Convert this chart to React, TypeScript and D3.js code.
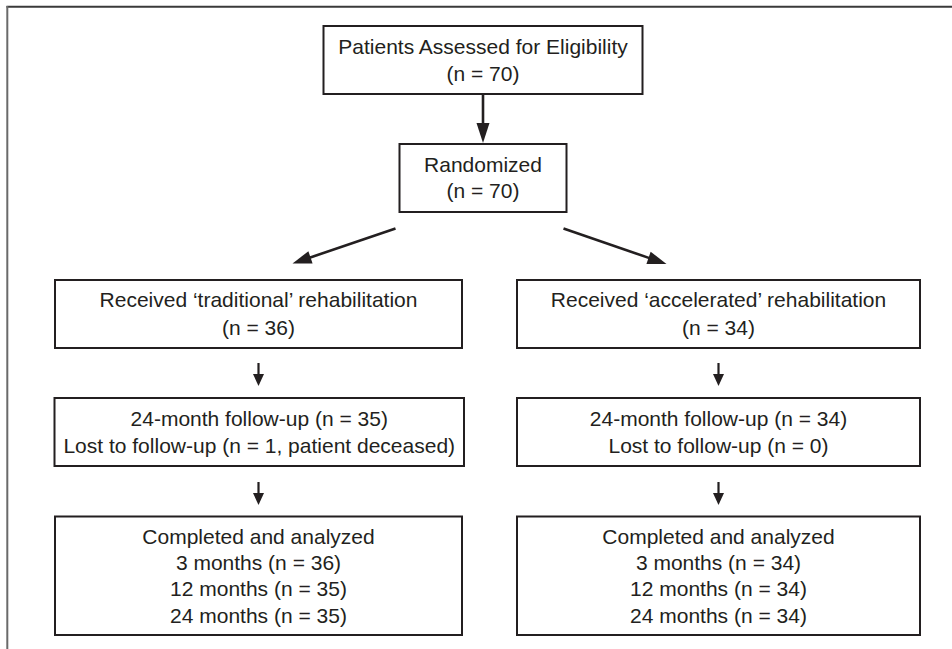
import React from "react";
import * as d3 from "d3";

// ---- Data (texts of the flow diagram) ----
const topLines = ["Patients Assessed for Eligibility", "(n = 70)"];
const randLines = ["Randomized", "(n = 70)"];
const groupTitles = ["Received \u2018traditional\u2019 rehabilitation", "Received \u2018accelerated\u2019 rehabilitation"];
const groupN = [36, 34];
const followUpN = [35, 34];
const lostLabels = ["Lost to follow-up (n = 1, patient deceased)", "Lost to follow-up (n = 0)"];
const analyzedTimes = ["3 months", "12 months", "24 months"];
const analyzedN = [
  [36, 35, 35],
  [34, 34, 34],
];

const W = 952;
const H = 649;
const INK = "#231f20";
const FONT = "'Liberation Sans', Arial, Helvetica, sans-serif";
const FS = 21;

type Pt = [number, number];

function Arrow({ from, to, head, half, sw }: { from: Pt; to: Pt; head: number; half: number; sw: number }) {
  const dx = to[0] - from[0];
  const dy = to[1] - from[1];
  const len = Math.hypot(dx, dy);
  const ux = dx / len;
  const uy = dy / len;
  const bx = to[0] - ux * head;
  const by = to[1] - uy * head;
  const px = -uy;
  const py = ux;
  const tri: Pt[] = [
    [to[0], to[1]],
    [bx + px * half, by + py * half],
    [bx - px * half, by - py * half],
  ];
  const line = d3.line();
  return (
    <g>
      <line x1={from[0]} y1={from[1]} x2={bx + ux * 1} y2={by + uy * 1} stroke={INK} strokeWidth={sw} />
      <path d={line(tri) + "Z"} fill={INK} />
    </g>
  );
}

function Box({ x0, x1, y0, y1, lines, baselines }: { x0: number; x1: number; y0: number; y1: number; lines: string[]; baselines: number[] }) {
  const cx = (x0 + x1) / 2;
  return (
    <g>
      <rect x={x0} y={y0} width={x1 - x0} height={y1 - y0} fill="white" stroke={INK} strokeWidth={2} />
      {lines.map((t, i) => (
        <text key={i} x={cx} y={baselines[i]} textAnchor="middle" fontFamily={FONT} fontSize={FS} fill={INK}>
          {t}
        </text>
      ))}
    </g>
  );
}

export default function App() {
  // column layout via band-like scale
  const colX0 = d3.scaleOrdinal<number, number>().domain([0, 1]).range([55, 517]);
  const colX1 = d3.scaleOrdinal<number, number>().domain([0, 1]).range([462, 920]);
  const colCx = (i: number) => (colX0(i) + colX1(i)) / 2;

  return (
    <svg width={W} height={H} style={{ position: "absolute", left: 0, top: 0, background: "white" }}>
      <rect x={0} y={0} width={W} height={H} fill="white" />
      {/* outer frame */}
      <line x1={6.5} y1={6.7} x2={W} y2={6.7} stroke="#3a3a3a" strokeWidth={2} />
      <line x1={7.3} y1={6} x2={7.3} y2={H} stroke="#6a6a6a" strokeWidth={2} />

      <Box x0={323.5} x1={642.5} y0={26} y1={94} lines={topLines} baselines={[54, 81]} />
      <Arrow from={[483, 94]} to={[483, 143]} head={20} half={6.5} sw={2.6} />

      <Box x0={399.5} x1={566.5} y0={144} y1={212} lines={randLines} baselines={[171.5, 198]} />
      <Arrow from={[395.5, 228.5]} to={[292.5, 263.5]} head={19} half={6.5} sw={2.6} />
      <Arrow from={[563.5, 228.5]} to={[666.5, 264]} head={19} half={6.5} sw={2.6} />

      {[0, 1].map((i) => (
        <g key={i}>
          <Box
            x0={colX0(i)}
            x1={colX1(i)}
            y0={280}
            y1={348}
            lines={[groupTitles[i], `(n = ${groupN[i]})`]}
            baselines={[307, 334.5]}
          />
          <Arrow from={[colCx(i), 363]} to={[colCx(i), 386]} head={12} half={5.5} sw={2.2} />
          <Box
            x0={i === 0 ? 54.5 : colX0(i)}
            x1={i === 0 ? 464 : colX1(i)}
            y0={398}
            y1={466}
            lines={[`24-month follow-up (n = ${followUpN[i]})`, lostLabels[i]]}
            baselines={[426, 452.5]}
          />
          <Arrow from={[colCx(i), 482]} to={[colCx(i), 505]} head={12} half={5.5} sw={2.2} />
          <Box
            x0={colX0(i)}
            x1={colX1(i)}
            y0={516.5}
            y1={635}
            lines={["Completed and analyzed", ...analyzedTimes.map((t, k) => `${t} (n = ${analyzedN[i][k]})`)]}
            baselines={[543.5, 569.5, 596, 622.5]}
          />
        </g>
      ))}
    </svg>
  );
}
